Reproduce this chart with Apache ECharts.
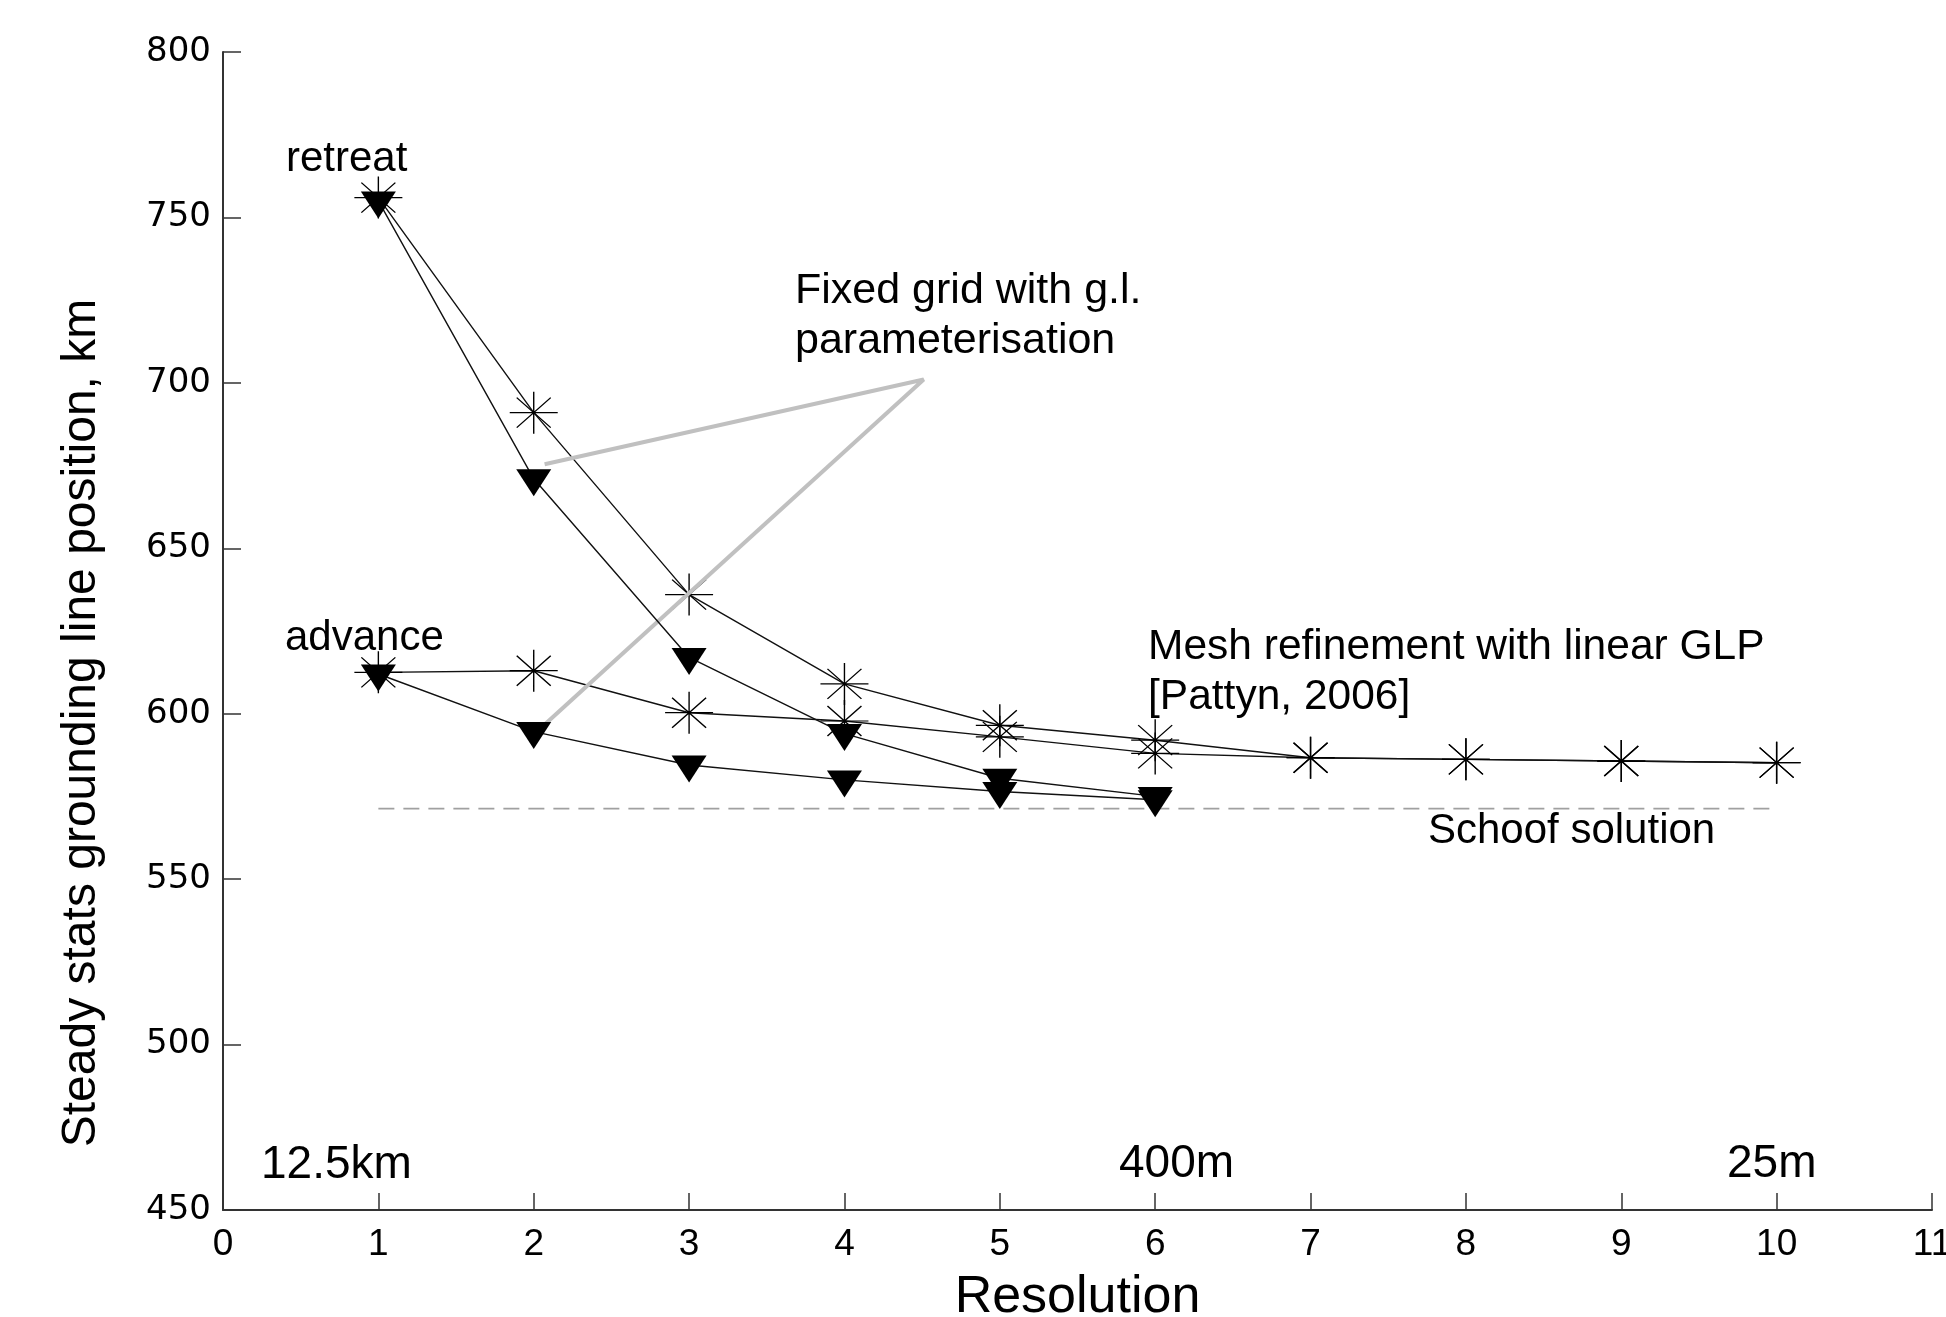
<!DOCTYPE html>
<html>
<head>
<meta charset="utf-8">
<script src="https://cdn.jsdelivr.net/npm/echarts@6/dist/echarts.min.js"></script>
<style>
html,body{margin:0;padding:0;background:#fff;overflow:hidden;}
#chart{width:1946px;height:1317px;}
</style>
</head>
<body>
<div id="chart"></div>
<script>
// ---- data ----
const resolution = [1, 2, 3, 4, 5, 6, 7, 8, 9, 10];
const meshRetreat = [756, 691, 636, 609, 596.5, 592, 586.7, 586.2, 585.7, 585.2];
const meshAdvance = [612.5, 613, 600.3, 597.8, 593, 588, 586.7, 586.2, 585.7, 585.2];
const fixedRetreat = [755, 671, 617, 594, 580.5, 575];
const fixedAdvance = [612, 594.6, 584.5, 580, 576.5, 574];
const schoofRange = [1, 10];
const schoofValue = 571.3;
// callout lines for "Fixed grid with g.l. parameterisation" (data coordinates)
const calloutX = [2.07, 4.51, 2.06];
const calloutY = [675.4, 701, 596.3];
const xTickValues = [0, 1, 2, 3, 4, 5, 6, 7, 8, 9, 10, 11];
const yTickValues = [450, 500, 550, 600, 650, 700, 750, 800];

const pairs = (xs, ys) => ys.map((y, i) => [xs[i], y]);

const STAR = 'path://M-24,0L24,0M0,-21L0,21M-17,-15L17,15M-17,15L17,-15';
const TRI = 'path://M-17,-9L17,-9L0,17Z';
const FONT = "'Liberation Sans', Arial, Helvetica, sans-serif";

function starSeries(name, vals) {
  return {
    name, type: 'line', data: pairs(resolution, vals),
    symbol: STAR, symbolSize: [48, 42],
    itemStyle: { color: 'transparent', borderColor: '#000', borderWidth: 1.3 },
    lineStyle: { color: '#111', width: 1.4 },
    emphasis: { disabled: true }, z: 3
  };
}
function triSeries(name, vals) {
  return {
    name, type: 'line', data: pairs(resolution, vals),
    symbol: TRI, symbolSize: [35, 27], symbolOffset: [0, 4],
    itemStyle: { color: '#000', borderColor: '#000', borderWidth: 0 },
    lineStyle: { color: '#111', width: 1.4 },
    emphasis: { disabled: true }, z: 5
  };
}

const chart = echarts.init(document.getElementById('chart'), null, { renderer: 'canvas' });

function txt(text, x, y, size) {
  return {
    type: 'text', x: x, y: y, z: 100,
    style: { text: text, font: size + 'px ' + FONT, fill: '#000', align: 'left', verticalAlign: 'middle' }
  };
}

chart.setOption({
  animation: false,
  backgroundColor: '#fff',
  grid: { left: 223, right: 14, top: 52, bottom: 107, containLabel: false, outerBoundsMode: 'none' },
  xAxis: {
    type: 'value',
    min: xTickValues[0], max: xTickValues[xTickValues.length - 1], interval: 1,
    splitLine: { show: false },
    axisLine: { show: true, lineStyle: { color: '#333', width: 2 } },
    axisTick: { show: true, inside: true, length: 17, lineStyle: { color: '#333', width: 1.5 } },
    axisLabel: {
      margin: 16, color: '#000', fontSize: 37,
      fontFamily: "'Liberation Sans Narrow', 'Liberation Sans', Arial, sans-serif"
    },
    name: 'Resolution', nameLocation: 'middle', nameGap: 62,
    nameTextStyle: { fontSize: 52, color: '#000', fontFamily: FONT }
  },
  yAxis: {
    type: 'value',
    min: yTickValues[0], max: yTickValues[yTickValues.length - 1], interval: 50,
    splitLine: { show: false },
    axisLine: { show: true, lineStyle: { color: '#333', width: 2 } },
    axisTick: { show: true, inside: true, length: 18, lineStyle: { color: '#333', width: 1.5 } },
    axisLabel: { margin: 12, color: '#000', fontSize: 34, fontFamily: "'DejaVu Sans', sans-serif" }
  },
  series: [
    {
      name: 'Schoof solution', type: 'line',
      data: schoofRange.map(x => [x, schoofValue]),
      symbol: 'none',
      lineStyle: { color: '#a0a0a0', width: 1.8, type: [16, 9] },
      emphasis: { disabled: true }, z: 1
    },
    starSeries('Mesh refinement retreat', meshRetreat),
    starSeries('Mesh refinement advance', meshAdvance),
    triSeries('Fixed grid retreat', fixedRetreat),
    triSeries('Fixed grid advance', fixedAdvance),
    {
      name: 'callout', type: 'line',
      data: pairs(calloutX, calloutY),
      symbol: 'none',
      lineStyle: { color: '#c0c0c0', width: 4 },
      emphasis: { disabled: true }, z: 4
    }
  ],
  graphic: [
    txt('retreat', 286, 159, 42),
    txt('advance', 285, 638, 42),
    txt('Fixed grid with g.l.', 795, 291, 43),
    txt('parameterisation', 795, 341, 43),
    txt('Mesh refinement with linear GLP', 1148, 647, 42.5),
    txt('[Pattyn, 2006]', 1148, 697, 42.5),
    txt('Schoof solution', 1428, 831, 42),
    txt('12.5km', 261, 1165, 46),
    txt('400m', 1119, 1164, 46),
    txt('25m', 1727, 1164, 46),
    {
      type: 'text', x: 82, y: 723, rotation: Math.PI / 2, z: 100,
      style: { text: 'Steady stats grounding line position, km', font: '48px ' + FONT, fill: '#000', align: 'center', verticalAlign: 'middle' }
    }
  ]
});
</script>
</body>
</html>
